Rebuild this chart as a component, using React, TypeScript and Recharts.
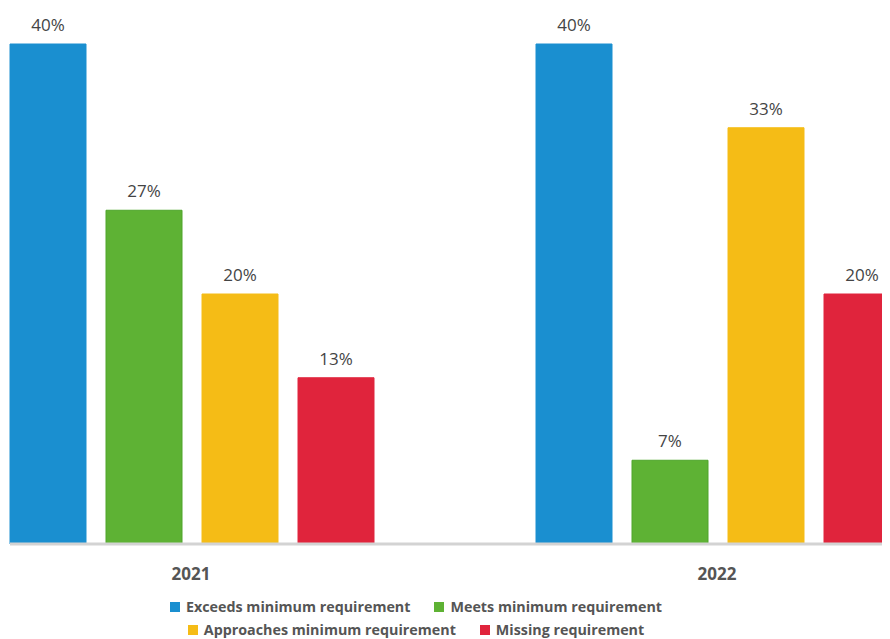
import { BarChart, Bar, XAxis, YAxis, Legend, LabelList } from "recharts";

const years = ["2021", "2022"];
const exceeds = [40, 40];
const meets = [26.7, 6.7];
const approaches = [20, 33.3];
const missing = [13.3, 20];

const series = [
  { key: "exceeds", name: "Exceeds minimum requirement", color: "#1a8fd0", stroke: "#1a8fd0" },
  { key: "meets", name: "Meets minimum requirement", color: "#5eb234", stroke: "#4ea52a" },
  { key: "approaches", name: "Approaches minimum requirement", color: "#f5bc16", stroke: "#f5bc16" },
  { key: "missing", name: "Missing requirement", color: "#e0243c", stroke: "#e0243c" },
];

const data = years.map((year, i) => ({
  year,
  exceeds: exceeds[i],
  meets: meets[i],
  approaches: approaches[i],
  missing: missing[i],
}));

const FONT = "'Open Sans', sans-serif";

function LegendContent() {
  return (
    <div
      style={{
        display: "flex",
        flexWrap: "wrap",
        justifyContent: "center",
        columnGap: 24,
        lineHeight: "23px",
        fontFamily: FONT,
        fontWeight: 700,
        fontSize: 14.3,
        color: "#555",
        width: 540,
      }}
    >
      {series.map((s) => (
        <span key={s.key} style={{ display: "inline-flex", alignItems: "center", whiteSpace: "nowrap" }}>
          <span style={{ width: 10, height: 10, background: s.color, marginRight: 6, display: "inline-block" }} />
          {s.name}
        </span>
      ))}
    </div>
  );
}

export default function App() {
  return (
    <BarChart
      width={882}
      height={631}
      data={data}
      margin={{ top: 36, right: 0, left: 2, bottom: 0 }}
      barCategoryGap={82}
      barGap={20}
    >
      <YAxis hide domain={[0, 40]} />
      <XAxis
        dataKey="year"
        height={45}
        padding={{ left: -82, right: -90 }}
        axisLine={{ stroke: "#d3d3d3", strokeWidth: 3 }}
        tickLine={false}
        tickSize={0}
        tickMargin={24}
        tick={{ fill: "#555", fontSize: 17, fontWeight: 700, fontFamily: FONT }}
      />
      <Legend
        verticalAlign="bottom"
        height={50}
        content={<LegendContent />}
        wrapperStyle={{ left: 138, width: 540, top: 587 }}
      />
      {series.map((s) => (
        <Bar key={s.key} dataKey={s.key} name={s.name} fill={s.color} stroke={s.stroke} strokeWidth={1} isAnimationActive={false}>
          <LabelList
            dataKey={s.key}
            position="top"
            offset={13}
            formatter={(v: number) => `${Math.round(v)}%`}
            style={{ fill: "#444", fontSize: 17, fontFamily: FONT }}
          />
        </Bar>
      ))}
    </BarChart>
  );
}
